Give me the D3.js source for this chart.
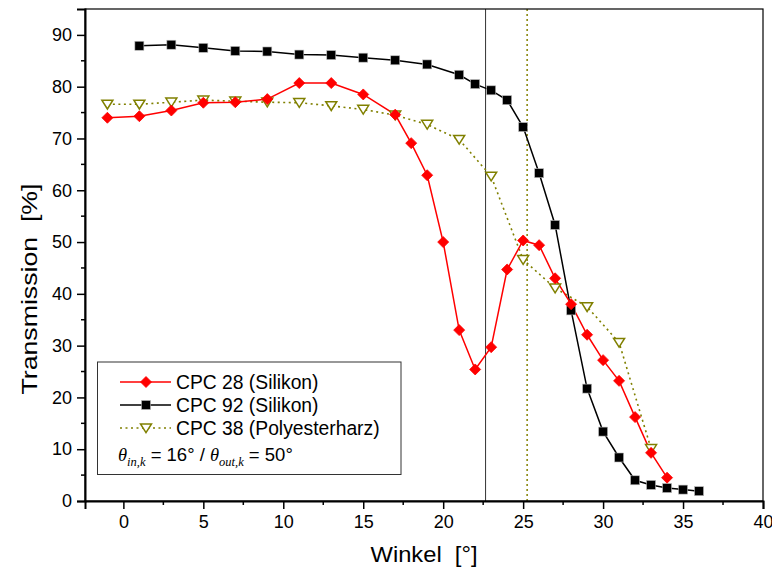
<!DOCTYPE html>
<html>
<head>
<meta charset="utf-8">
<script src="https://cdn.jsdelivr.net/npm/d3@7"></script>
<style>
  html, body { margin: 0; padding: 0; background: #fff; }
  svg { display: block; }
  text { font-family: "Liberation Sans", Arial, sans-serif; fill: #000; }
</style>
</head>
<body>
<svg id="chart" width="772" height="576"></svg>
<script>
// Transmission vs. angle for three CPC samples
const anglesCPC28 = [-1, 1, 3, 5, 7, 9, 11, 13, 15, 17, 18, 19, 20, 21, 22, 23, 24, 25, 26, 27, 28, 29, 30, 31, 32, 33, 34];
const transCPC28  = [74.0, 74.3, 75.4, 76.9, 77.0, 77.6, 80.7, 80.7, 78.5, 74.6, 69.1, 62.9, 50.0, 33.0, 25.4, 29.7, 44.7, 50.3, 49.4, 43.0, 38.0, 32.1, 27.2, 23.2, 16.2, 9.3, 4.5];

const anglesCPC92 = [1, 3, 5, 7, 9, 11, 13, 15, 17, 19, 21, 22, 23, 24, 25, 26, 27, 28, 29, 30, 31, 32, 33, 34, 35, 36];
const transCPC92  = [87.9, 88.1, 87.5, 86.9, 86.8, 86.2, 86.1, 85.6, 85.1, 84.3, 82.3, 80.5, 79.3, 77.4, 72.2, 63.3, 53.3, 36.8, 21.7, 13.4, 8.4, 4.0, 3.1, 2.5, 2.2, 1.9];

const anglesCPC38 = [-1, 1, 3, 5, 7, 9, 11, 13, 15, 17, 19, 21, 23, 25, 27, 29, 31, 33];
const transCPC38  = [76.6, 76.6, 77.0, 77.4, 77.2, 77.0, 76.9, 76.3, 75.6, 74.5, 72.7, 69.8, 62.7, 46.6, 41.1, 37.5, 30.6, 10.1];

// Acceptance angles (vertical markers)
const acceptanceIn = 22.65;
const acceptanceOut = 25.25;

const xTicks = [0, 5, 10, 15, 20, 25, 30, 35, 40];
const yTicks = [0, 10, 20, 30, 40, 50, 60, 70, 80, 90];

const legendLabels = ["CPC 28 (Silikon)", "CPC 92 (Silikon)", "CPC 38 (Polyesterharz)"];

const margin = { left: 85, right: 9, top: 9, bottom: 75 };
const W = 772, H = 576;
const svg = d3.select("#chart");

const x = d3.scaleLinear().domain([-2.4, 40]).range([margin.left, W - margin.right]);
const y = d3.scaleLinear().domain([0, 95]).range([H - margin.bottom, margin.top]);

const RED = "#ff0000", BLACK = "#000000", OLIVE = "#808000";

// vertical reference lines
svg.append("line")
  .attr("x1", x(acceptanceIn)).attr("x2", x(acceptanceIn))
  .attr("y1", y(95)).attr("y2", y(0))
  .attr("stroke", "#333").attr("stroke-width", 1);
svg.append("line")
  .attr("x1", x(acceptanceOut)).attr("x2", x(acceptanceOut))
  .attr("y1", y(95)).attr("y2", y(0))
  .attr("stroke", OLIVE).attr("stroke-width", 1.5).attr("stroke-dasharray", "2,3");

const line = d3.line().x(d => x(d[0])).y(d => y(d[1]));

const s28 = anglesCPC28.map((a, i) => [a, transCPC28[i]]);
const s92 = anglesCPC92.map((a, i) => [a, transCPC92[i]]);
const s38 = anglesCPC38.map((a, i) => [a, transCPC38[i]]);

// series lines
svg.append("path").datum(s38).attr("d", line)
  .attr("fill", "none").attr("stroke", OLIVE).attr("stroke-width", 1.6).attr("stroke-dasharray", "2,3.5");
svg.append("path").datum(s92).attr("d", line)
  .attr("fill", "none").attr("stroke", BLACK).attr("stroke-width", 1.5);
svg.append("path").datum(s28).attr("d", line)
  .attr("fill", "none").attr("stroke", RED).attr("stroke-width", 1.5);

// marker shapes
function diamond(g, cx, cy, r) {
  g.append("path")
    .attr("d", `M${cx},${cy - r}L${cx + r},${cy}L${cx},${cy + r}L${cx - r},${cy}Z`)
    .attr("fill", RED).attr("stroke", RED).attr("stroke-width", 0.8);
}
function square(g, cx, cy, h) {
  g.append("rect").attr("x", cx - h).attr("y", cy - h).attr("width", 2 * h).attr("height", 2 * h)
    .attr("fill", BLACK).attr("stroke", "#bbb").attr("stroke-width", 0.6);
}
function triangle(g, cx, cy, r) {
  g.append("path")
    .attr("d", `M${cx - r},${cy - r * 0.75}L${cx + r},${cy - r * 0.75}L${cx},${cy + r * 0.85}Z`)
    .attr("fill", "#fff").attr("stroke", OLIVE).attr("stroke-width", 1.5);
}

const gMarks = svg.append("g");
s38.forEach(d => triangle(gMarks, x(d[0]), y(d[1]), 5.5));
s92.forEach(d => square(gMarks, x(d[0]), y(d[1]), 4.5));
s28.forEach(d => diamond(gMarks, x(d[0]), y(d[1]), 5.5));

// frame
svg.append("rect")
  .attr("x", x(-2.4)).attr("y", y(95))
  .attr("width", x(40) - x(-2.4)).attr("height", y(0) - y(95))
  .attr("fill", "none").attr("stroke", "#000").attr("stroke-width", 1.2);

// axes
const xAxis = d3.axisBottom(x).tickValues(xTicks).tickSize(8).tickPadding(6).tickFormat(d3.format("d"));
const gx = svg.append("g").attr("transform", `translate(0,${y(0)})`).call(xAxis);
gx.append("g").selectAll("line").data(d3.range(2.5, 40, 5)).join("line")
  .attr("x1", d => x(d)).attr("x2", d => x(d)).attr("y1", 0).attr("y2", 4)
  .attr("stroke", "#000").attr("stroke-width", 1.5);

const yAxis = d3.axisLeft(y).tickValues(yTicks).tickSize(8).tickPadding(5).tickFormat(d3.format("d"));
const gy = svg.append("g").attr("transform", `translate(${x(-2.4)},0)`).call(yAxis);
gy.append("g").selectAll("line").data(d3.range(5, 95, 10)).join("line")
  .attr("x1", 0).attr("x2", -4).attr("y1", d => y(d)).attr("y2", d => y(d))
  .attr("stroke", "#000").attr("stroke-width", 1.5);

[gx, gy].forEach(g => {
  g.select(".domain").attr("stroke", "#000").attr("stroke-width", 2);
  g.selectAll(".tick line").attr("stroke", "#000").attr("stroke-width", 1.5);
  g.selectAll(".tick text").attr("font-size", 18).attr("fill", "#000")
    .attr("font-family", '"Liberation Sans", Arial, sans-serif');
});

// axis titles
svg.append("text")
  .attr("x", (x(-2.4) + x(40)) / 2).attr("y", 562)
  .attr("text-anchor", "middle").attr("font-size", 22)
  .attr("xml:space", "preserve")
  .attr("textLength", 107).attr("lengthAdjust", "spacingAndGlyphs")
  .text("Winkel  [°]");
svg.append("text")
  .attr("transform", `translate(37,289) rotate(-90)`)
  .attr("text-anchor", "middle").attr("font-size", 22)
  .attr("xml:space", "preserve")
  .attr("textLength", 211).attr("lengthAdjust", "spacingAndGlyphs")
  .text("Transmission  [%]");

// legend
const lg = svg.append("g");
lg.append("rect").attr("x", 97.5).attr("y", 362).attr("width", 303.5).attr("height", 112.5)
  .attr("fill", "#fff").attr("stroke", "#333").attr("stroke-width", 1);

const rows = [382, 405, 428];
const lx1 = 120, lx2 = 171, lmid = 146;
lg.append("line").attr("x1", lx1).attr("x2", lx2).attr("y1", rows[0]).attr("y2", rows[0])
  .attr("stroke", RED).attr("stroke-width", 1.5);
diamond(lg, lmid, rows[0], 5.5);
lg.append("line").attr("x1", lx1).attr("x2", lx2).attr("y1", rows[1]).attr("y2", rows[1])
  .attr("stroke", BLACK).attr("stroke-width", 1.5);
square(lg, lmid, rows[1], 4.5);
lg.append("line").attr("x1", lx1).attr("x2", lx2).attr("y1", rows[2]).attr("y2", rows[2])
  .attr("stroke", OLIVE).attr("stroke-width", 1.5).attr("stroke-dasharray", "2,3.5");
triangle(lg, lmid, rows[2], 5.5);

legendLabels.forEach((t, i) => {
  lg.append("text").attr("x", 176).attr("y", rows[i] + 6.5).attr("font-size", 19.3).text(t);
});

// acceptance-angle note
const note = lg.append("text").attr("x", 118).attr("y", 461).attr("font-size", 18.5);
note.append("tspan").attr("font-family", '"Liberation Serif", "Times New Roman", serif')
  .attr("font-style", "italic").text("θ");
note.append("tspan").attr("font-family", '"Liberation Serif", "Times New Roman", serif')
  .attr("font-style", "italic").attr("font-size", 12.5).attr("dy", 5).text("in,k");
note.append("tspan").attr("dy", -5).attr("xml:space", "preserve").text(" = 16° / ");
note.append("tspan").attr("font-family", '"Liberation Serif", "Times New Roman", serif')
  .attr("font-style", "italic").text("θ");
note.append("tspan").attr("font-family", '"Liberation Serif", "Times New Roman", serif')
  .attr("font-style", "italic").attr("font-size", 12.5).attr("dy", 5).text("out,k");
note.append("tspan").attr("dy", -5).attr("xml:space", "preserve").text(" = 50°");
</script>
</body>
</html>
